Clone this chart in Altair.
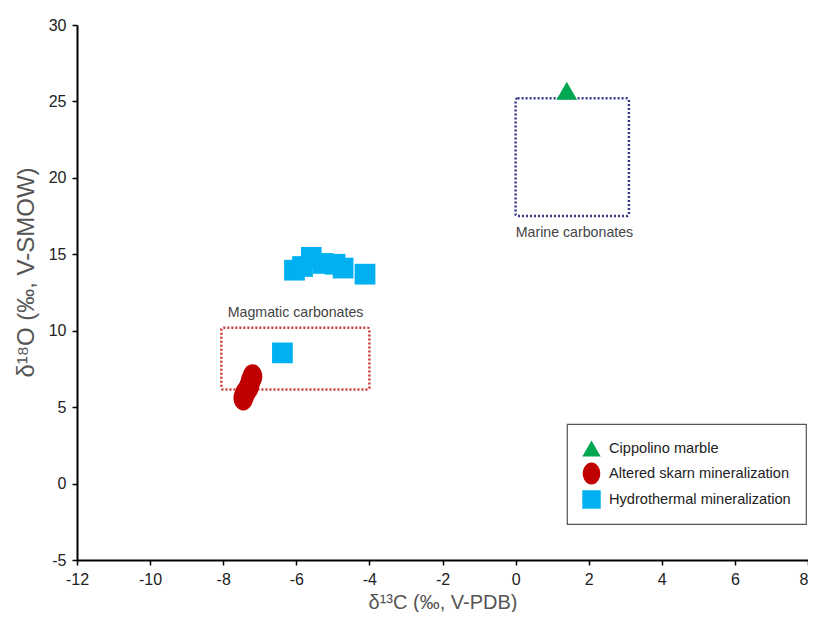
import altair as alt
import pandas as pd

# --- data ---
cippolino_x = [1.4]
cippolino_y = [25.7]
skarn_x = [-7.2, -7.25, -7.3, -7.4, -7.45]
skarn_y = [7.0, 6.7, 6.3, 5.9, 5.6]
hydro_x = [-6.05, -5.83, -5.59, -5.26, -4.94, -4.72, -4.12, -6.38]
hydro_y = [13.96, 14.2, 14.8, 14.4, 14.35, 14.1, 13.7, 8.55]

series = ["Cippolino marble", "Altered skarn mineralization", "Hydrothermal mineralization"]
colors = ["#00a651", "#c00000", "#00b0f0"]
ellipse = "M0,-1.2A0.95,1.2,0,1,1,0,1.2A0.95,1.2,0,1,1,0,-1.2Z"
shapes = ["triangle-up", ellipse, "square"]

box_names = ["Marine carbonates", "Magmatic carbonates"]
box_x1 = [0.0, -8.05]
box_x2 = [3.1, -4.0]
box_y1 = [17.5, 6.15]
box_y2 = [25.2, 10.2]
box_colors = ["#3a3a8a", "#cc3a3a"]
label_x = [1.61, -6.02]
label_y = [16.4, 11.16]

rows = []
for xs, ys, name in [(cippolino_x, cippolino_y, series[0]),
                     (skarn_x, skarn_y, series[1]),
                     (hydro_x, hydro_y, series[2])]:
    for a, b in zip(xs, ys):
        rows.append({"x": a, "y": b, "type": name})
pts = pd.DataFrame(rows)
boxes = pd.DataFrame({"name": box_names, "x1": box_x1, "x2": box_x2,
                      "y1": box_y1, "y2": box_y2, "color": box_colors,
                      "lx": label_x, "ly": label_y})

xscale = alt.Scale(domain=[-12, 8], nice=False, zero=False)
yscale = alt.Scale(domain=[-5, 30], nice=False, zero=False)

xaxis = alt.Axis(title="δ¹³C (‰, V-PDB)", values=list(range(-12, 9, 2)),
                 grid=False, titlePadding=5, labelPadding=6, titleFontSize=20,
                 labelExpr="'' + datum.value",
                 labelAlign={"condition": {"test": "datum.value == 8", "value": "right"},
                             "value": "center"})
yaxis = alt.Axis(title="δ¹⁸O (‰, V-SMOW)", values=list(range(-5, 31, 5)),
                 grid=False, labelPadding=6, titleFontSize=24,
                 titleX=-39, titleY=247, titleAngle=270,
                 titleAlign="center", titleBaseline="bottom",
                 labelExpr="'' + datum.value")

rects = alt.Chart(boxes).mark_rect(fill=None, strokeWidth=2.5,
                                   strokeDash=[2, 2], cornerRadius=2).encode(
    x=alt.X("x1:Q", scale=xscale, axis=xaxis),
    x2="x2:Q",
    y=alt.Y("y1:Q", scale=yscale, axis=yaxis),
    y2="y2:Q",
    stroke=alt.Stroke("color:N", scale=None),
)

labels = alt.Chart(boxes).mark_text(fontSize=14.2, color="#444",
                                    font="Liberation Sans").encode(
    x=alt.X("lx:Q", scale=xscale),
    y=alt.Y("ly:Q", scale=yscale),
    text="name:N",
)

points = alt.Chart(pts).mark_point(filled=True, opacity=1, size=430).encode(
    x=alt.X("x:Q", scale=xscale),
    y=alt.Y("y:Q", scale=yscale),
    color=alt.Color("type:N", scale=alt.Scale(domain=series, range=colors),
                    legend=alt.Legend(title=None, orient="none",
                                      legendX=490, legendY=399)),
    shape=alt.Shape("type:N", scale=alt.Scale(domain=series, range=shapes)),
)

chart = alt.layer(rects, labels, points).properties(
    width=731, height=535,
    autosize=alt.AutoSizeParams(type="none"),
    padding={"left": 69, "top": 17, "right": 0, "bottom": 52},
).configure_view(stroke=None).configure_axis(
    domainColor="black", domainWidth=2, tickColor="black", tickWidth=1.5,
    tickSize=5, labelFont="Liberation Sans", labelFontSize=16,
    labelColor="#222", titleFont="Liberation Sans",
    titleFontWeight="normal", titleColor="#555",
).configure_legend(
    strokeColor="#555", strokeWidth=1.2, fillColor="white", padding=15,
    labelFont="Liberation Sans", labelFontSize=14.6, labelColor="#222",
    symbolSize=340, rowPadding=5, symbolStrokeWidth=0, labelLimit=300,
    cornerRadius=0, labelOffset=8,
)

chart.save("out.html", embed_options={"renderer": "svg", "actions": False})
